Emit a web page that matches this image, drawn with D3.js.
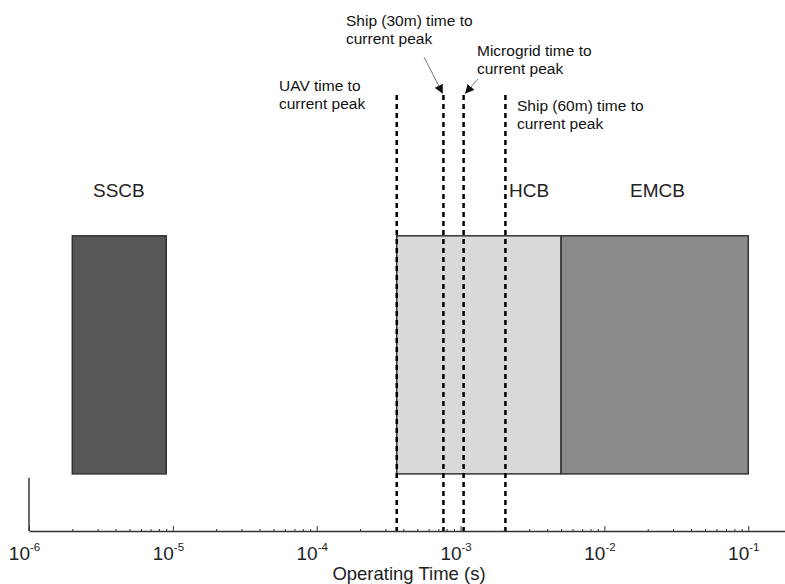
<!DOCTYPE html>
<html lang="en">
<head>
<meta charset="utf-8">
<title>Operating Time</title>
<script src="https://cdn.jsdelivr.net/npm/d3@7"></script>
<style>
  body { margin: 0; background: #fff; }
  svg { font-family: "Liberation Sans", Arial, Helvetica, sans-serif; }
  .axis path, .axis line { stroke: #333; }
  .breaker-label { font-size: 19px; fill: #222; }
  .note { font-size: 15.5px; fill: #111; }
</style>
</head>
<body>
<div id="chart"></div>
<script>
// breaker operating time ranges (s)
var breakers = ["SSCB", "HCB", "EMCB"];
var tMin = [2e-6, 3.6e-4, 5e-3];
var tMax = [9e-6, 5e-3, 1e-1];
var fills = ["#575757", "#d9d9d9", "#8b8b8b"];

// time to current peak (s)
var systems = ["UAV", "Ship (30m)", "Microgrid", "Ship (60m)"];
var peakTime = [3.6e-4, 7.6e-4, 1.05e-3, 2.05e-3];

var majorTicks = [1e-6, 1e-5, 1e-4, 1e-3, 1e-2, 1e-1];
var tickExp = ["-6", "-5", "-4", "-3", "-2", "-1"];

var width = 785, height = 584;

var svg = d3.select("#chart").append("svg")
    .attr("width", width)
    .attr("height", height);

var x = d3.scaleLog()
    .domain([1e-6, 0.18])
    .range([29, 785]);

var y = d3.scaleLinear()
    .domain([0, 1])
    .range([531, 95]);

var barBottom = 0.131, barTop = 0.677;

// bars
svg.selectAll(".bar")
    .data(breakers)
  .enter().append("rect")
    .attr("class", "bar")
    .attr("x", function(d, i) { return x(tMin[i]); })
    .attr("width", function(d, i) { return x(tMax[i]) - x(tMin[i]); })
    .attr("y", y(barTop))
    .attr("height", y(barBottom) - y(barTop))
    .attr("fill", function(d, i) { return fills[i]; })
    .attr("stroke", "#333")
    .attr("stroke-width", 1.5);

// breaker labels
var labelX = [93, 509, 630];
svg.selectAll(".breaker-label")
    .data(breakers)
  .enter().append("text")
    .attr("class", "breaker-label")
    .attr("x", function(d, i) { return labelX[i]; })
    .attr("y", 197)
    .text(function(d) { return d; });

// dashed lines
svg.selectAll(".peak")
    .data(peakTime)
  .enter().append("line")
    .attr("class", "peak")
    .attr("x1", function(d) { return x(d); })
    .attr("x2", function(d) { return x(d); })
    .attr("y1", y(1))
    .attr("y2", y(0))
    .attr("stroke", "#000")
    .attr("stroke-width", 2.5)
    .attr("stroke-dasharray", "5,4");

// annotations
var noteX = [279, 346, 477, 517];
var noteY = [91, 26, 56, 111];
svg.selectAll(".note")
    .data(systems)
  .enter().append("text")
    .attr("class", "note")
    .attr("x", function(d, i) { return noteX[i]; })
    .attr("y", function(d, i) { return noteY[i]; })
    .each(function(d, i) {
      var t = d3.select(this);
      t.append("tspan").attr("x", noteX[i]).text(d + " time to");
      t.append("tspan").attr("x", noteX[i]).attr("dy", 18).text("current peak");
    });

svg.append("defs").append("marker")
    .attr("id", "arrow")
    .attr("viewBox", "0 0 10 10")
    .attr("refX", 9).attr("refY", 5)
    .attr("markerWidth", 9).attr("markerHeight", 9)
    .attr("markerUnits", "userSpaceOnUse")
    .attr("orient", "auto")
  .append("path")
    .attr("d", "M0,0L10,5L0,10Z")
    .attr("fill", "#111");

var arrows = [
  { i: 1, x0: 424, y0: 57 },
  { i: 2, x0: 478, y0: 79 }
];
svg.selectAll(".arrow")
    .data(arrows)
  .enter().append("line")
    .attr("class", "arrow")
    .attr("x1", function(d) { return d.x0; })
    .attr("y1", function(d) { return d.y0; })
    .attr("x2", function(d) { return x(peakTime[d.i]) + (d.i == 1 ? -1 : 2); })
    .attr("y2", y(1) - 2)
    .attr("stroke", "#777")
    .attr("stroke-width", 1)
    .attr("marker-end", "url(#arrow)");

// minor ticks
var minor = [];
majorTicks.slice(0, 5).forEach(function(m) {
  for (var k = 2; k <= 9; k++) minor.push(m * k);
});

svg.append("g")
    .attr("class", "axis")
    .attr("transform", "translate(0," + y(0) + ")")
    .call(d3.axisBottom(x).tickValues(minor).tickSize(-2).tickFormat(""))
    .call(function(g) { g.select(".domain").remove(); });

var xAxis = svg.append("g")
    .attr("class", "axis")
    .attr("transform", "translate(0," + y(0) + ")")
    .call(d3.axisBottom(x).tickValues(majorTicks).tickSizeInner(-5).tickSizeOuter(0).tickPadding(29));

xAxis.select(".domain").attr("stroke-width", 1.5);

xAxis.selectAll(".tick text")
    .attr("font-size", 19)
    .attr("fill", "#222")
    .attr("dy", 0)
    .attr("dx", -5)
    .text("")
    .each(function(d, i) {
      var t = d3.select(this);
      t.append("tspan").text("10");
      t.append("tspan").attr("font-size", 11.5).attr("dy", -9).text(tickExp[i]);
    });

// short left axis
svg.append("line")
    .attr("x1", x(1e-6)).attr("x2", x(1e-6))
    .attr("y1", y(0.122)).attr("y2", y(0))
    .attr("stroke", "#333")
    .attr("stroke-width", 1.5);

svg.append("text")
    .attr("x", 409)
    .attr("y", 580)
    .attr("text-anchor", "middle")
    .attr("font-size", 18.5)
    .attr("fill", "#222")
    .text("Operating Time (s)");
</script>
</body>
</html>
